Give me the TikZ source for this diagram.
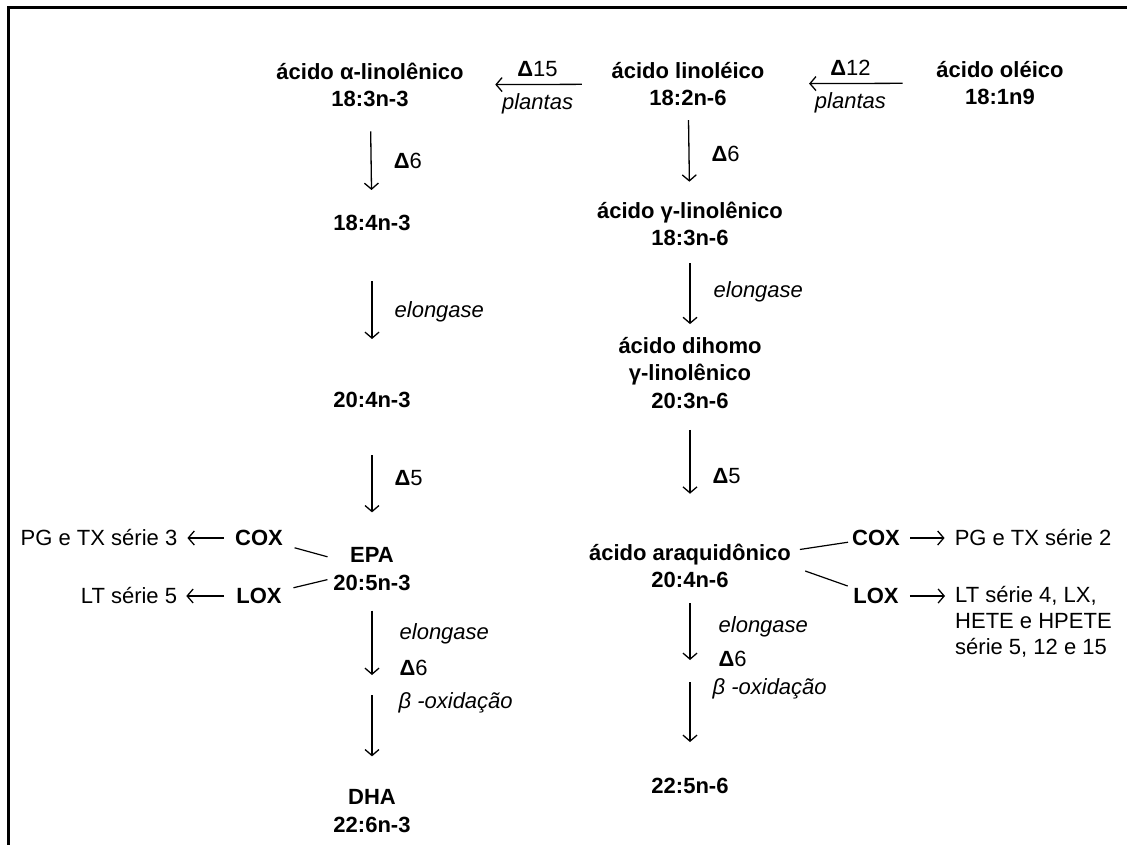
\documentclass[tikz,border=0pt]{standalone}
\usepackage{fontspec}
\setmainfont{Liberation Sans}
\usepackage{tikz}
\usetikzlibrary{arrows.meta}
\tikzstyle{acid} = [align=center, inner sep=0pt, font=\bfseries\fontsize{22}{27.5}\selectfont]
\tikzstyle{enz} = [inner sep=0pt, font=\fontsize{22}{27.5}\selectfont]
\tikzstyle{enzit} = [inner sep=0pt, font=\itshape\fontsize{22}{27.5}\selectfont]
\tikzstyle{prod} = [align=left, inner sep=0pt, font=\fontsize{22}{26}\selectfont]
\tikzstyle{line} = [draw, line width=1.3pt, -{Straight Barb[length=6pt,width=14pt,line width=1.3pt]}]
\tikzstyle{link} = [draw, line width=1.2pt]

\begin{document}
\begin{tikzpicture}[x=1pt, y=-1pt, auto]
        \useasboundingbox (0,0) rectangle (1127,845);
        \draw [line width=3.5pt] (8.7,845) -- (8.7,7.5) -- (1127,7.5);
        % Place nodes
        \node [acid] (alin) at (370,85) {ácido α-linolênico\\18:3n-3};
        \node [acid] (lin) at (688,84) {ácido linoléico\\18:2n-6};
        \node [acid] (ole) at (1000,83) {ácido oléico\\18:1n9};
        \node [acid] (sda) at (372,223) {18:4n-3};
        \node [acid] (eta) at (372,400) {20:4n-3};
        \node [acid] (epa) at (372,569) {EPA\\20:5n-3};
        \node [acid] (dha) at (372,811) {DHA\\22:6n-3};
        \node [acid] (gla) at (690,224) {ácido γ-linolênico\\18:3n-6};
        \node [acid] (dgla) at (690,373) {ácido dihomo\\γ-linolênico\\20:3n-6};
        \node [acid] (ara) at (690,566) {ácido araquidônico\\20:4n-6};
        \node [acid] (dpa) at (690,786) {22:5n-6};
        \node [acid] (coxl) at (259,538) {COX};
        \node [acid] (loxl) at (259,596) {LOX};
        \node [acid] (coxr) at (876,538) {COX};
        \node [acid] (loxr) at (876,596) {LOX};
        \node [enz] (pgl) at (99,538) {PG e TX série 3};
        \node [enz] (ltl) at (129,596) {LT série 5};
        \node [enz] (pgr) at (1033,538) {PG e TX série 2};
        \node [prod, anchor=north west] (ltr) at (955,586) {LT série 4, LX,\\HETE e HPETE\\série 5, 12 e 15};
        \coordinate (lmid) at (372,685);
        \coordinate (rmid) at (690,671);
        % Draw edges
        \path [line, shorten <=29.5pt, shorten >=31.5pt] (lin) -- node [enz, above=7pt] (d15) {\textbf{Δ}15} node [enzit, below=8pt] (p15) {plantas} (alin);
        \path [line, shorten <=33.5pt, shorten >=44.5pt] (ole) -- node [enz, above=7pt] (d12) {\textbf{Δ}12} node [enzit, below=8pt] (p12) {plantas} (lin);
        \path [line, shorten <=24pt, shorten >=25pt] (alin) -- node [enz, right=22pt] (d6a) {\textbf{Δ}6} (sda);
        \path [line, shorten <=50pt, shorten >=53pt] (sda) -- node [enzit, right=22pt] (el1) {elongase} (eta);
        \path [line, shorten <=47pt, shorten >=35pt] (eta) -- node [enz, right=22pt] (d5a) {\textbf{Δ}5} (epa);
        \path [line, shorten <=20pt, shorten >=10pt] (epa) -- node [enzit, pos=0.46, right=27pt] (el2) {elongase} node [enz, pos=0.82, right=27pt] (d6b) {\textbf{Δ}6} (lmid);
        \path [line, shorten <=10pt, shorten >=33pt] (lmid) -- node [enzit, pos=0.17, right=26pt] (bo1) {β -oxidação} (dha);
        \path [line, shorten <=14pt, shorten >=20pt] (lin) -- node [enz, right=22pt] (d6c) {\textbf{Δ}6} (gla);
        \path [line, shorten <=17pt, shorten >=13pt] (gla) -- node [enzit, right=23pt] (el3) {elongase} (dgla);
        \path [line, shorten <=21pt, shorten >=50pt] (dgla) -- node [enz, right=22pt] (d5b) {\textbf{Δ}5} (ara);
        \path [line, shorten <=15pt, shorten >=11pt] (ara) -- node [enzit, pos=0.46, right=28pt] (el4) {elongase} node [enz, pos=0.86, right=28pt] (d6d) {\textbf{Δ}6} (rmid);
        \path [line, shorten <=11pt, shorten >=36pt] (rmid) -- node [enzit, pos=0.17, right=22pt] (bo2) {β -oxidação} (dpa);
        \path [link, shorten <=12pt, shorten >=6pt] (coxl) -- (epa);
        \path [link, shorten <=12pt, shorten >=6pt] (loxl) -- (epa);
        \path [link, shorten <=9pt, shorten >=4pt] (ara) -- (coxr);
        \path [link, shorten <=15pt, shorten >=6pt] (ara.east) -- (loxr);
        \path [line, shorten <=11pt, shorten >=10pt] (coxl) -- (pgl);
        \path [line, shorten <=12pt, shorten >=9pt] (loxl) -- (ltl);
        \path [line, shorten <=10pt, shorten >=10pt] (coxr) -- (pgr);
        \path [line, shorten <=11pt, shorten >=10pt] (loxr) -- (loxr -| ltr.west);
\end{tikzpicture}
\end{document}
